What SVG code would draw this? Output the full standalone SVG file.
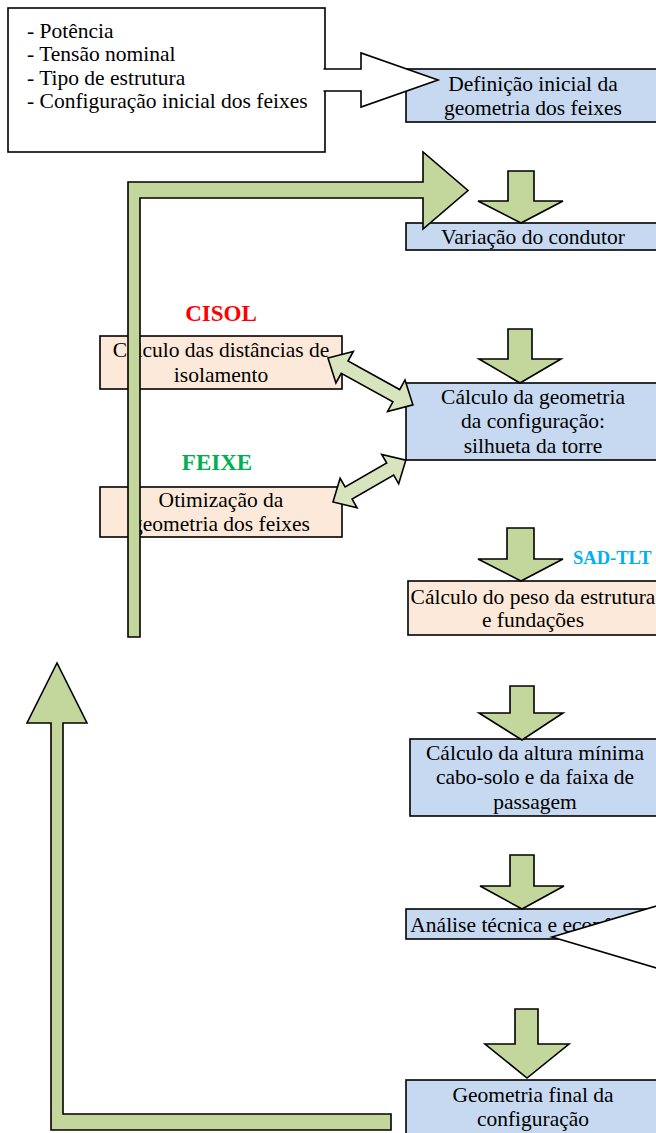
<svg xmlns="http://www.w3.org/2000/svg" width="656" height="1133" viewBox="0 0 656 1133">
<style>
.box{stroke:#000;stroke-width:1.6}
.blue{fill:#C6D9F1}
.peach{fill:#FDE9D9}
.t{font-family:"Liberation Serif","Times New Roman",serif;font-size:21.5px;fill:#000}
.c{text-anchor:middle}
.lbl{font-family:"Liberation Serif","Times New Roman",serif;font-weight:bold;font-size:23px;text-anchor:middle}
.g{fill:#C3D69B;stroke:#000;stroke-width:1.6;stroke-linejoin:miter}
.dg{fill:#D7E4BD;stroke:#000;stroke-width:1.6}
.w{fill:#fff;stroke:#000;stroke-width:1.6}
</style>
<rect width="656" height="1133" fill="#fff"/>

<g id="input">
<rect class="box" x="8" y="8" width="317" height="144" fill="#fff"/>
<text class="t" x="27" y="38">- Potência</text>
<text class="t" x="27" y="61">- Tensão nominal</text>
<text class="t" x="27" y="85">- Tipo de estrutura</text>
<text class="t" x="27" y="108">- Configuração inicial dos feixes</text>
</g>

<g id="n-definicao">
<rect class="box blue" x="406" y="69" width="256" height="53"/>
<text class="t c" x="533" y="91">Definição inicial da</text>
<text class="t c" x="533" y="115">geometria dos feixes</text>
</g>

<g id="n-variacao">
<rect class="box blue" x="406" y="223" width="256" height="27"/>
<text class="t c" x="533" y="244">Variação do condutor</text>
</g>

<g id="n-cisol">
<text class="lbl" x="221" y="321" fill="#FF0000">CISOL</text>
<rect class="box peach" x="100" y="336" width="242" height="53"/>
<text class="t c" x="221" y="357">Cálculo das distâncias de</text>
<text class="t c" x="221" y="382">isolamento</text>
</g>

<g id="n-geometria">
<rect class="box blue" x="406" y="383" width="256" height="77"/>
<text class="t c" x="533" y="404">Cálculo da geometria</text>
<text class="t c" x="533" y="428">da configuração:</text>
<text class="t c" x="533" y="453">silhueta da torre</text>
</g>

<g id="n-feixe">
<text class="lbl" x="217" y="470" fill="#00B050">FEIXE</text>
<rect class="box peach" x="100" y="487" width="242" height="50"/>
<text class="t c" x="221" y="507">Otimização da</text>
<text class="t c" x="221" y="531">geometria dos feixes</text>
</g>

<g id="n-peso">
<text x="573" y="564" font-family="Liberation Serif, Times New Roman, serif" font-weight="bold" font-size="18.5" fill="#00B0F0">SAD-TLT</text>
<rect class="box peach" x="408" y="581" width="254" height="54"/>
<text class="t c" x="533" y="604">Cálculo do peso da estrutura</text>
<text class="t c" x="533" y="627">e fundações</text>
</g>

<g id="n-altura">
<rect class="box blue" x="410" y="739" width="252" height="77"/>
<text class="t c" x="535" y="760">Cálculo da altura mínima</text>
<text class="t c" x="535" y="784">cabo-solo e da faixa de</text>
<text class="t c" x="535" y="809">passagem</text>
</g>

<g id="n-analise">
<rect class="box blue" x="406" y="909" width="256" height="30"/>
<text class="t c" x="533" y="932">Análise técnica e econômica</text>
</g>

<g id="n-final">
<rect class="box blue" x="406" y="1080" width="256" height="60"/>
<text class="t c" x="533" y="1102">Geometria final da</text>
<text class="t c" x="533" y="1126">configuração</text>
</g>

<g id="connectors">
<path class="w" d="M323.5,69 H361 V53 L438,80 L361,107 V91 H323.5"/>
<polygon class="g" points="140,637 140,198 423,198 423,229 468,190.5 423,152 423,182 128,182 128,637"/>
<polygon class="g" points="508,171 534,171 534,201 563,201 521,223 478,201 508,201"/>
<polygon class="g" points="508,329 532,329 532,359 561,359 520,383 479,359 508,359"/>
<polygon class="dg" points="0,0 19,-18 19,-7 78,-7 78,-18 97,0 78,18 78,7 19,7 19,18" transform="translate(328,358) rotate(28.9)"/>
<polygon class="dg" points="0,0 18,-17 18,-7 66,-7 66,-17 84,0 66,17 66,7 18,7 18,17" transform="translate(333,502) rotate(-29.9)"/>
<polygon class="g" points="507,528 534,528 534,559 563,559 521,581 478,559 507,559"/>
<polygon class="g" points="510,686 534,686 534,713 563,713 522,740 479,713 510,713"/>
<polygon class="g" points="510,855 534,855 534,886 564,886 522,909 480,886 510,886"/>
<polygon class="w" points="552,937 720,887 720,987"/>
<polygon class="g" points="515,1009 538,1009 538,1044 569,1044 527,1078 485,1044 515,1044"/>
<polygon class="g" points="391,1114 63,1114 63,723 87,723 57,663 27,723 51,723 51,1130 391,1130"/>
</g>
</svg>
